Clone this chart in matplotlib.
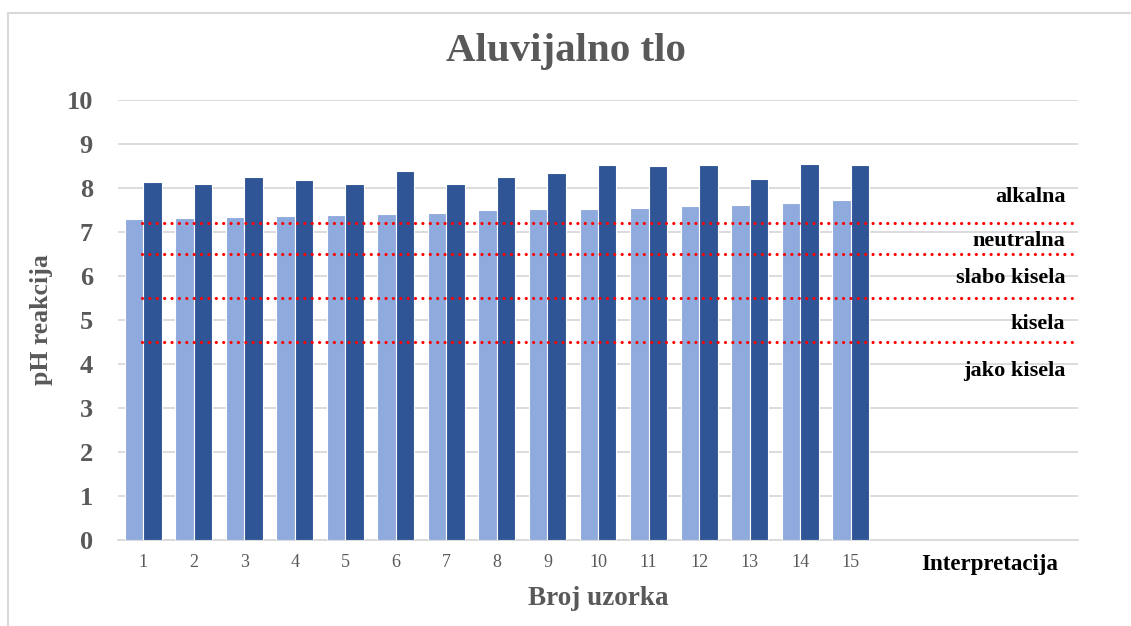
import matplotlib.pyplot as plt
import numpy as np

# values
uzorci = [str(i) for i in range(1, 16)]
ph_light = [7.29, 7.31, 7.34, 7.36, 7.38, 7.42, 7.44, 7.49, 7.52, 7.53, 7.55, 7.59, 7.61, 7.66, 7.72]
ph_dark = [8.13, 8.08, 8.24, 8.19, 8.08, 8.39, 8.08, 8.26, 8.33, 8.52, 8.49, 8.52, 8.20, 8.54, 8.52]
granice = [7.2, 6.5, 5.5, 4.5]
opisi = ['alkalna', 'neutralna', 'slabo kisela', 'kisela', 'jako kisela']
opisi_y = [7.8, 6.8, 5.95, 4.9, 3.85]

plt.rcParams['font.family'] = ['Liberation Serif', 'DejaVu Serif']
siva = '#595959'

fig = plt.figure(figsize=(11.31, 6.26), dpi=100)
ax = fig.add_axes([118/1131, 1-540/626, 960/1131, 440/626])

x = np.arange(len(uzorci))
w = 0.366
ax.bar(x - w/2, ph_light, w, color='#8FAADC', edgecolor='white', linewidth=0.8, zorder=3)
ax.bar(x + w/2, ph_dark, w, color='#2F5597', edgecolor='white', linewidth=0.8, zorder=3)

for g in granice:
    ax.plot([-0.03, 18.45], [g, g], color='red', lw=2.3, linestyle=(0, (0.01, 2.3)),
            dash_capstyle='round', zorder=4)

for t, yy in zip(opisi, opisi_y):
    ax.text(18.25, yy, t, ha='right', va='center', fontsize=16, fontweight='bold', color='black')

ax.set_xlim(-0.5, 18.5)
ax.set_ylim(0, 10)
ax.set_yticks(range(0, 11))
ax.yaxis.grid(True, color='#D9D9D9', lw=1.3, zorder=0)
ax.set_axisbelow(True)
for s in ['top', 'right', 'left']:
    ax.spines[s].set_visible(False)
ax.spines['bottom'].set_color('#D9D9D9')
ax.spines['bottom'].set_linewidth(1.3)

ax.set_xticks(list(x) + [16.75])
ax.set_xticklabels(uzorci + ['Interpretacija'])
for lbl in ax.get_xticklabels():
    lbl.set_fontsize(13)
    lbl.set_color(siva)
ax.get_xticklabels()[-1].set_fontweight('bold')
ax.get_xticklabels()[-1].set_color('black')
ax.get_xticklabels()[-1].set_fontsize(16.5)
ax.tick_params(axis='x', length=0, pad=10)
ax.tick_params(axis='y', length=0, pad=18, labelsize=19, labelcolor=siva)
for lbl in ax.get_yticklabels():
    lbl.set_fontweight('bold')

ax.set_xlabel('Broj uzorka', fontsize=19.5, fontweight='bold', color=siva, labelpad=8)
ax.set_ylabel('pH reakcija', fontsize=18.5, fontweight='bold', color=siva, labelpad=10)
fig.text(0.5, 1-52/626, 'Aluvijalno tlo', ha='center', va='center', fontsize=29.5,
         fontweight='bold', color=siva)

# chart area border (left and top visible)
fig.add_artist(plt.Line2D([8/1131, 8/1131], [0, 1-13/626], color='#D9D9D9', lw=1.5))
fig.add_artist(plt.Line2D([8/1131, 1], [1-13/626, 1-13/626], color='#D9D9D9', lw=1.5))

fig.savefig('out.png', dpi=100)
